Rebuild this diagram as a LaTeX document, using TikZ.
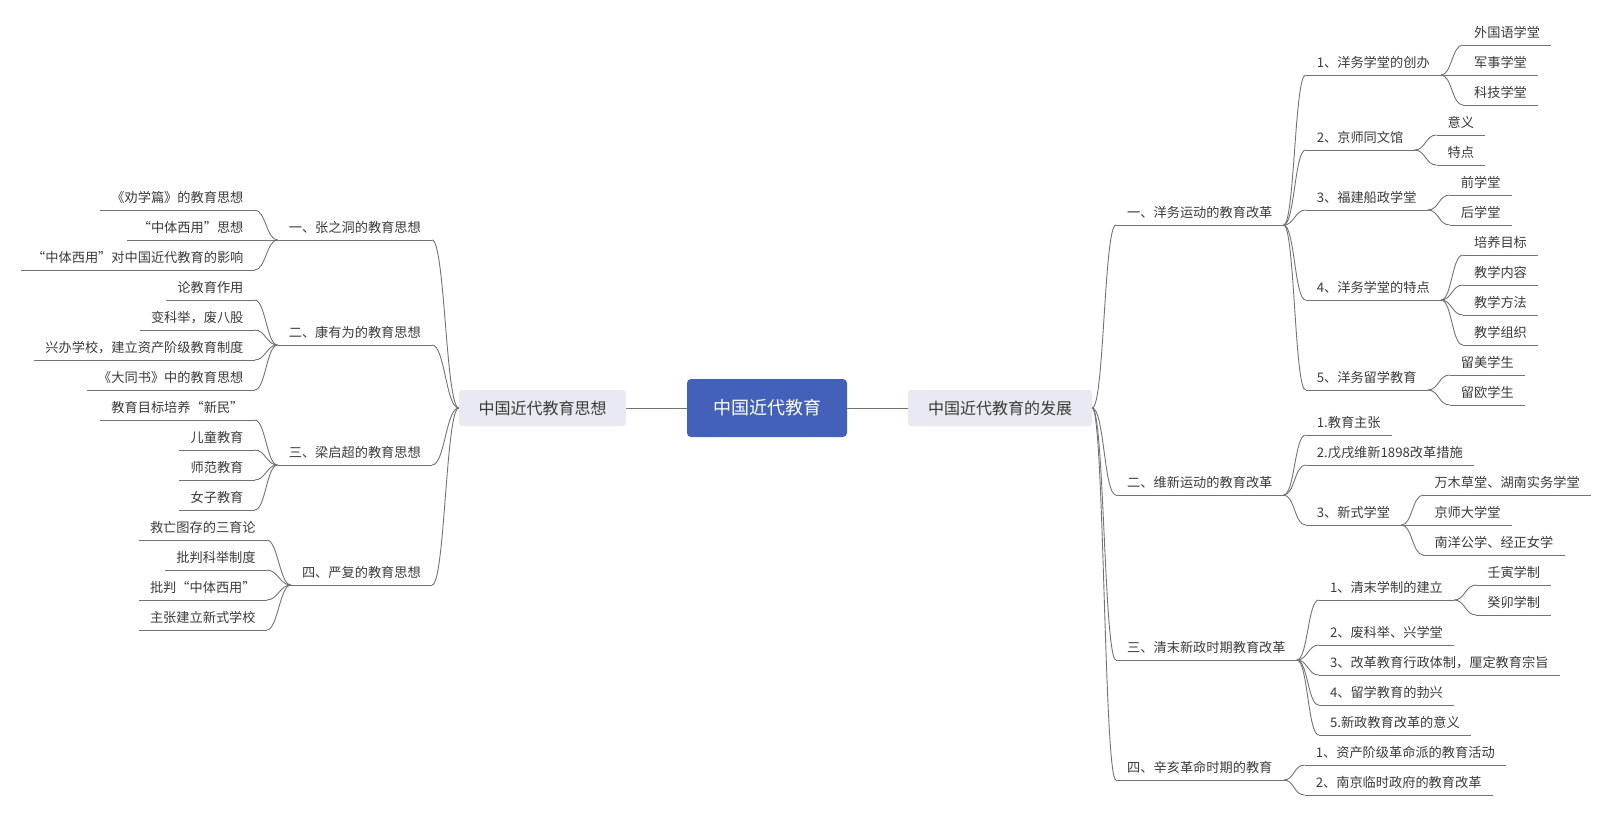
\documentclass[tikz,border=0pt]{standalone}
\usepackage{fontspec}
\setmainfont{Noto Sans CJK SC}
\usetikzlibrary{calc}
\definecolor{txt}{HTML}{3A3A3A}
\definecolor{lc}{HTML}{737373}
\definecolor{rootblue}{HTML}{4361B8}
\definecolor{mainbg}{HTML}{E9EAF1}
\tikzset{
  con/.style={draw=lc, line width=0.9pt},
  base/.style={font=\fontsize{13.2}{15}\selectfont, text=txt, inner xsep=11pt, inner ysep=5pt,
    text height=10pt, text depth=2pt,
    append after command={(\tikzlastnode.south west) edge[con] (\tikzlastnode.south east)}},
  rn/.style={base, anchor=south west},
  ln/.style={base, anchor=south east},
  mainbox/.style={fill=mainbg, rounded corners=3pt, minimum height=36pt, text=txt, font=\fontsize{16}{18}\selectfont, inner sep=0pt},
  rootbox/.style={fill=rootblue, rounded corners=4pt, minimum width=160pt, minimum height=58pt, text=white, font=\fontsize{18}{20}\selectfont, inner sep=0pt}
}
\newcommand\cR[2]{\draw[con] (#1.south east) .. controls +(11,0) and +(-11,0) .. (#2.south west);}
\newcommand\cL[2]{\draw[con] (#1.south west) .. controls +(-11,0) and +(11,0) .. (#2.south east);}
\begin{document}
\begin{tikzpicture}[x=1pt,y=-1pt]
\useasboundingbox (0,0) rectangle (1615,816);
\node[rootbox] (root) at (767,408) {中国近代教育};
\node[mainbox, minimum width=167pt] (L) at (542.5,408) {中国近代教育思想};
\node[mainbox, minimum width=184pt] (R) at (1000,408) {中国近代教育的发展};
\draw[con] (root.west) -- (L.east);
\draw[con] (root.east) -- (R.west);

% ---------- right side ----------
\node[rn] (a1) at (1116,225) {一、洋务运动的教育改革};
\node[rn] (a2) at (1116,495) {二、维新运动的教育改革};
\node[rn] (a3) at (1116,660) {三、清末新政时期教育改革};
\node[rn] (a4) at (1116,780) {四、辛亥革命时期的教育};
\foreach \n in {a1,a2,a3,a4}{\draw[con] (R.east) .. controls +(12,0) and +(-12,0) .. (\n.south west);}

\node[rn] (a11) at ([shift={(22,-150)}]a1.south east) {1、洋务学堂的创办};
\node[rn] (a12) at ([shift={(22,-75)}]a1.south east) {2、京师同文馆};
\node[rn] (a13) at ([shift={(22,-15)}]a1.south east) {3、福建船政学堂};
\node[rn] (a14) at ([shift={(22,75)}]a1.south east) {4、洋务学堂的特点};
\node[rn] (a15) at ([shift={(22,165)}]a1.south east) {5、洋务留学教育};
\foreach \n in {a11,a12,a13,a14,a15}{\cR{a1}{\n}}

\node[rn] (a111) at ([shift={(22,-30)}]a11.south east) {外国语学堂};
\node[rn] (a112) at ([shift={(22,0)}]a11.south east) {军事学堂};
\node[rn] (a113) at ([shift={(22,30)}]a11.south east) {科技学堂};
\foreach \n in {a111,a112,a113}{\cR{a11}{\n}}

\node[rn] (a121) at ([shift={(22,-15)}]a12.south east) {意义};
\node[rn] (a122) at ([shift={(22,15)}]a12.south east) {特点};
\foreach \n in {a121,a122}{\cR{a12}{\n}}

\node[rn] (a131) at ([shift={(22,-15)}]a13.south east) {前学堂};
\node[rn] (a132) at ([shift={(22,15)}]a13.south east) {后学堂};
\foreach \n in {a131,a132}{\cR{a13}{\n}}

\node[rn] (a141) at ([shift={(22,-45)}]a14.south east) {培养目标};
\node[rn] (a142) at ([shift={(22,-15)}]a14.south east) {教学内容};
\node[rn] (a143) at ([shift={(22,15)}]a14.south east) {教学方法};
\node[rn] (a144) at ([shift={(22,45)}]a14.south east) {教学组织};
\foreach \n in {a141,a142,a143,a144}{\cR{a14}{\n}}

\node[rn] (a151) at ([shift={(22,-15)}]a15.south east) {留美学生};
\node[rn] (a152) at ([shift={(22,15)}]a15.south east) {留欧学生};
\foreach \n in {a151,a152}{\cR{a15}{\n}}

\node[rn] (a21) at ([shift={(22,-60)}]a2.south east) {1.教育主张};
\node[rn] (a22) at ([shift={(22,-30)}]a2.south east) {2.戊戌维新1898改革措施};
\node[rn] (a23) at ([shift={(22,30)}]a2.south east) {3、新式学堂};
\foreach \n in {a21,a22,a23}{\cR{a2}{\n}}

\node[rn] (a231) at ([shift={(22,-30)}]a23.south east) {万木草堂、湖南实务学堂};
\node[rn] (a232) at ([shift={(22,0)}]a23.south east) {京师大学堂};
\node[rn] (a233) at ([shift={(22,30)}]a23.south east) {南洋公学、经正女学};
\foreach \n in {a231,a232,a233}{\cR{a23}{\n}}

\node[rn] (a31) at ([shift={(22,-60)}]a3.south east) {1、清末学制的建立};
\node[rn] (a32) at ([shift={(22,-15)}]a3.south east) {2、废科举、兴学堂};
\node[rn] (a33) at ([shift={(22,15)}]a3.south east) {3、改革教育行政体制，厘定教育宗旨};
\node[rn] (a34) at ([shift={(22,45)}]a3.south east) {4、留学教育的勃兴};
\node[rn] (a35) at ([shift={(22,75)}]a3.south east) {5.新政教育改革的意义};
\foreach \n in {a31,a32,a33,a34,a35}{\cR{a3}{\n}}

\node[rn] (a311) at ([shift={(22,-15)}]a31.south east) {壬寅学制};
\node[rn] (a312) at ([shift={(22,15)}]a31.south east) {癸卯学制};
\foreach \n in {a311,a312}{\cR{a31}{\n}}

\node[rn] (a41) at ([shift={(21,-15)}]a4.south east) {1、资产阶级革命派的教育活动};
\node[rn] (a42) at ([shift={(21,15)}]a4.south east) {2、南京临时政府的教育改革};
\foreach \n in {a41,a42}{\cR{a4}{\n}}

% ---------- left side ----------
\node[ln] (b1) at (432,240) {一、张之洞的教育思想};
\node[ln] (b2) at (432,345) {二、康有为的教育思想};
\node[ln] (b3) at (432,465) {三、梁启超的教育思想};
\node[ln] (b4) at (432,585) {四、严复的教育思想};
\foreach \n in {b1,b2,b3,b4}{\draw[con] (L.west) .. controls +(-13,0) and +(13,0) .. (\n.south east);}

\node[ln] (b11) at ([shift={(-23,-30)}]b1.south west) {《劝学篇》的教育思想};
\node[ln] (b12) at ([shift={(-23,0)}]b1.south west) {“中体西用”思想};
\node[ln] (b13) at ([shift={(-23,30)}]b1.south west) {“中体西用”对中国近代教育的影响};
\foreach \n in {b11,b12,b13}{\cL{b1}{\n}}

\node[ln] (b21) at ([shift={(-23,-45)}]b2.south west) {论教育作用};
\node[ln] (b22) at ([shift={(-23,-15)}]b2.south west) {变科举，废八股};
\node[ln] (b23) at ([shift={(-23,15)}]b2.south west) {兴办学校，建立资产阶级教育制度};
\node[ln] (b24) at ([shift={(-23,45)}]b2.south west) {《大同书》中的教育思想};
\foreach \n in {b21,b22,b23,b24}{\cL{b2}{\n}}

\node[ln] (b31) at ([shift={(-23,-45)}]b3.south west) {教育目标培养“新民”};
\node[ln] (b32) at ([shift={(-23,-15)}]b3.south west) {儿童教育};
\node[ln] (b33) at ([shift={(-23,15)}]b3.south west) {师范教育};
\node[ln] (b34) at ([shift={(-23,45)}]b3.south west) {女子教育};
\foreach \n in {b31,b32,b33,b34}{\cL{b3}{\n}}

\node[ln] (b41) at ([shift={(-24,-45)}]b4.south west) {救亡图存的三育论};
\node[ln] (b42) at ([shift={(-24,-15)}]b4.south west) {批判科举制度};
\node[ln] (b43) at ([shift={(-24,15)}]b4.south west) {批判“中体西用”};
\node[ln] (b44) at ([shift={(-24,45)}]b4.south west) {主张建立新式学校};
\foreach \n in {b41,b42,b43,b44}{\cL{b4}{\n}}
\end{tikzpicture}
\end{document}
